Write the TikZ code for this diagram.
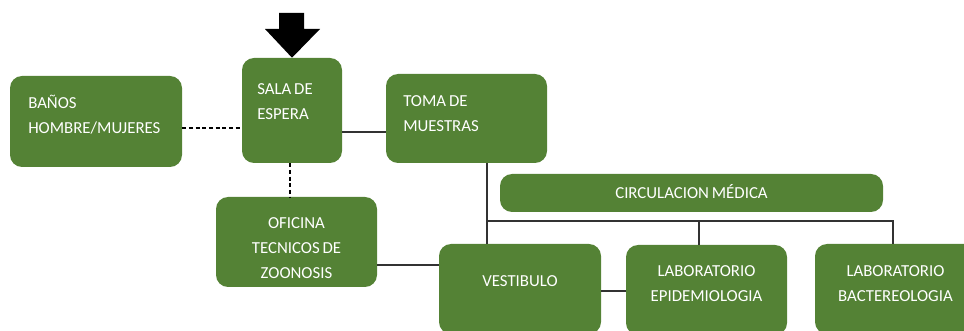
\documentclass[tikz,border=0pt]{standalone}
\usepackage{fontspec}
\setmainfont{Carlito}
\definecolor{boxgreen}{RGB}{84,130,53}
\definecolor{linegray}{RGB}{50,50,50}
\newcommand\tightspacing{\spaceskip=0.17em\relax}
\begin{document}
\begin{tikzpicture}[x=0.75pt,y=-0.75pt,
  box/.style={draw=none, fill=boxgreen, rounded corners=9pt, inner sep=0pt},
  lbl/.style={text=white, font=\fontsize{12.6}{18.5}\selectfont, inner sep=0pt,
    execute at begin node=\tightspacing},
  lbll/.style={lbl, text width=140pt, align=left, anchor=base west},
  lblc/.style={lbl, text width=118pt, align=center, anchor=base},
  conn/.style={draw=linegray, line width=1.1pt},
  dconn/.style={draw=black, line width=1pt, dash pattern=on 3pt off 2pt}]
\useasboundingbox (0,0) rectangle (964,331);
\clip (0,0) rectangle (964,331);
% boxes
\node[box, minimum width=129pt, minimum height=68.25pt] (banos) at (96,121.5) {};
\node[box, minimum width=75pt, minimum height=78.75pt] (sala) at (292,110.5) {};
\node[box, minimum width=120.75pt, minimum height=66.75pt] (toma) at (466.5,118.5) {};
\node[box, minimum width=287.25pt, minimum height=28.5pt] (circ) at (691.5,193) {};
\node[box, minimum width=120.75pt, minimum height=67.5pt] (ofic) at (296.5,242) {};
\node[box, minimum width=121.5pt, minimum height=67.5pt] (vest) at (520,289) {};
\node[box, minimum width=120.75pt, minimum height=67.5pt] (epid) at (706.5,290) {};
\node[box, minimum width=120.75pt, minimum height=67.5pt] (bact) at (895.5,289) {};
% texts
\node[lbll] at (28,109) {BAÑOS\\HOMBRE/MUJERES};
\node[lbll] at (257,95) {SALA DE\\ESPERA};
\node[lbll] at (403,107) {TOMA DE\\MUESTRAS};
\node[lblc, text width=250pt] at (691.5,199) {CIRCULACION MÉDICA};
\node[lblc] at (296.5,229) {OFICINA\\TECNICOS DE\\ZOONOSIS};
\node[lblc] at (520,287) {VESTIBULO};
\node[lblc] at (706.5,277) {LABORATORIO\\EPIDEMIOLOGIA};
\node[lblc] at (895.5,277) {LABORATORIO\\BACTEREOLOGIA};
% entrance arrow
\fill[black] (279,13) -- (304,13) -- (304,29) -- (320,29) -- (sala.north) -- (265,29) -- (279,29) -- cycle;
% helper coordinates
\coordinate (ya) at (0,128);
\coordinate (yb) at (0,132);
\coordinate (xc) at (290,0);
\coordinate (yd) at (0,265);
\coordinate (xe) at (487,0);
\coordinate (bus) at (0,221);
\coordinate (xf) at (699,0);
\coordinate (xg) at (893,0);
\coordinate (yh) at (0,291);
% connectors
\draw[dconn] (banos.east |- ya) -- (sala.west |- ya);
\draw[conn] (sala.east |- yb) -- (toma.west |- yb);
\draw[dconn] (sala.south -| xc) -- (ofic.north -| xc);
\draw[conn] (ofic.east |- yd) -- (vest.west |- yd);
\draw[conn] (toma.south -| xe) -- (vest.north -| xe);
\draw[conn] (xe |- bus) -- (xg |- bus) -- (bact.north -| xg);
\draw[conn] (xf |- bus) -- (epid.north -| xf);
\draw[conn] (vest.east |- yh) -- (epid.west |- yh);
\end{tikzpicture}
\end{document}
